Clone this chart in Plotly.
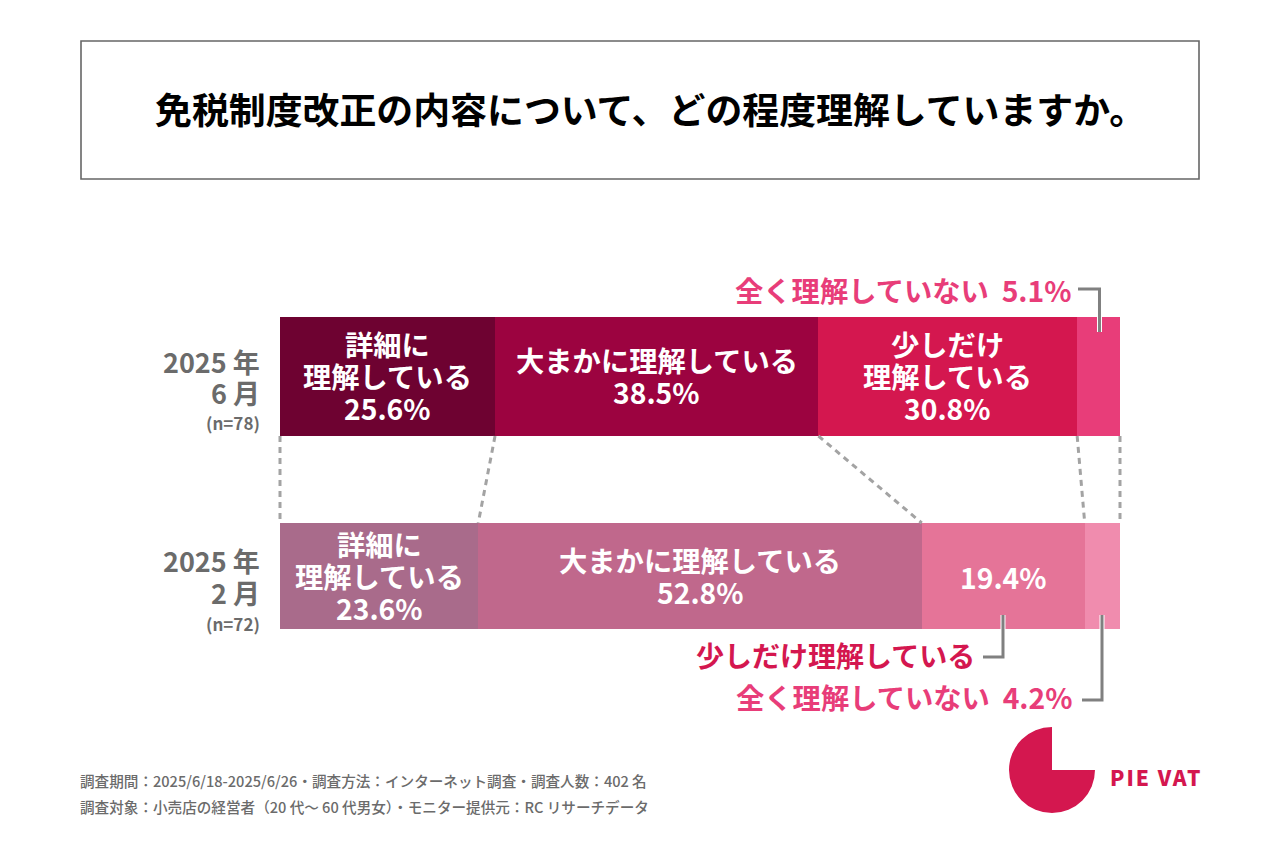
import numpy as np
import plotly.graph_objects as go

# ---- data ----
PERIODS = ["2025年6月", "2025年2月"]
SERIES = ["詳細に理解している", "大まかに理解している", "少しだけ理解している", "全く理解していない"]
JUNE = [25.6, 38.5, 30.8, 5.1]
FEBRUARY = [23.6, 52.8, 19.4, 4.2]
TITLE = "免税制度改正の内容について、どの程度理解していますか。"
FOOT_1 = "調査期間：2025/6/18-2025/6/26・調査方法：インターネット調査・調査人数：402 名"
FOOT_2 = "調査対象：小売店の経営者（20 代〜 60 代男女）・モニター提供元：RC リサーチデータ"

# ---- layout and style ----
W, H = 1280, 853
FONT = "Noto Sans CJK JP"
X0, X1 = 280, 1120
ROW_TOP = [317, 523]
ROW_BOT = [436, 629]
COLORS = [["#6E0231", "#A96B8B"], ["#9C0340", "#C0688C"], ["#D4174F", "#E57498"], ["#E83D79", "#F08CAE"]]
BIG = 28.3
centers = [(a + b) / 2 for a, b in zip(ROW_TOP, ROW_BOT)]
heights = [b - a for a, b in zip(ROW_TOP, ROW_BOT)]

fig = go.Figure()
for i, name in enumerate(SERIES):
    fig.add_trace(go.Bar(
        y=centers, x=[JUNE[i], FEBRUARY[i]], width=heights, name=name, orientation="h",
        marker=dict(color=COLORS[i], line=dict(width=0)), hoverinfo="skip", showlegend=False,
    ))

# dashed connectors between the bars, from the cumulative values
cum_j, cum_f = np.cumsum([0] + JUNE), np.cumsum([0] + FEBRUARY)
for a, b in zip(cum_j, cum_f):
    fig.add_trace(go.Scatter(
        x=[a, b], y=[ROW_BOT[0], ROW_TOP[1]], mode="lines", showlegend=False, hoverinfo="skip",
        line=dict(color="#A3A3A3", width=3, dash="6px,5px"), cliponaxis=False,
    ))

def px(v):
    return v / W

def py(v):
    return 1 - v / H

def txt(s, x, y, size, color, anchor="center", weight=700):
    fig.add_annotation(
        text=s, x=px(x), y=py(y - 1), xref="paper", yref="paper", showarrow=False,
        xanchor=anchor, yanchor="middle", align=anchor, borderpad=0, borderwidth=0,
        font=dict(family=FONT, size=size, color=color, weight=weight),
    )

def line(xs, ys, color, width):
    fig.add_shape(
        type="path", xref="paper", yref="paper",
        path="M " + " L ".join(f"{px(a):.5f},{py(b):.5f}" for a, b in zip(xs, ys)),
        line=dict(color=color, width=width),
    )

def xpos(v):
    return X0 + (X1 - X0) * v / 100

# title box
fig.add_shape(type="rect", xref="paper", yref="paper", x0=px(81), x1=px(1199), y0=py(179), y1=py(41),
              line=dict(color="#666666", width=1.6), fillcolor="white", layer="below")
txt(TITLE, 650, 109, 36.9, "#000000")

# row labels
for (y1, y2, y3, m, n) in [(362, 393, 424, "6", "(n=78)"), (561, 593, 624, "2", "(n=72)")]:
    txt("2025 年", 260, y1, 27, "#6B6B6B", "right")
    txt(f"{m} 月", 260, y2, 27, "#6B6B6B", "right")
    txt(n, 260, y3, 17, "#6B6B6B", "right")

# labels inside the bars
def mid(c, i):
    return xpos((c[i] + c[i + 1]) / 2)

for k, s in enumerate(["詳細に", "理解している", f"{JUNE[0]}%"]):
    txt(s, mid(cum_j, 0), 344 + 32 * k, BIG, "white")
for k, s in enumerate(["大まかに理解している", f"{JUNE[1]}%"]):
    txt(s, mid(cum_j, 1), 360 + 32 * k, BIG, "white")
for k, s in enumerate(["少しだけ", "理解している", f"{JUNE[2]}%"]):
    txt(s, mid(cum_j, 2), 344 + 32 * k, BIG, "white")
for k, s in enumerate(["詳細に", "理解している", f"{FEBRUARY[0]}%"]):
    txt(s, mid(cum_f, 0), 544 + 32 * k, BIG, "white")
for k, s in enumerate(["大まかに理解している", f"{FEBRUARY[1]}%"]):
    txt(s, mid(cum_f, 1), 560 + 32 * k, BIG, "white")
txt(f"{FEBRUARY[2]}%", mid(cum_f, 2), 577, BIG, "white")

# callouts
txt(f"全く理解していない  {JUNE[3]}%", 1072, 290, BIG, "#E83D79", "right")
txt("少しだけ理解している", 975, 656, 28, "#D4174F", "right")
txt(f"全く理解していない  {FEBRUARY[3]}%", 1073, 697, BIG, "#E83D79", "right")
for xs, ys in [([1078, 1099.5, 1099.5], [289, 289, 332]),
               ([983, 1003, 1003], [657, 657, 615]),
               ([1082, 1102, 1102], [700, 700, 615])]:
    line(xs, ys, "#FFFFFF", 5)
    line(xs, ys, "#808080", 3)

# footer
txt(FOOT_1, 80, 781, 14.6, "#6B6B6B", "left", 500)
txt(FOOT_2, 80, 807, 14.6, "#6B6B6B", "left", 500)

# logo
fig.add_trace(go.Pie(
    values=[25, 75], sort=False, direction="clockwise", rotation=0,
    marker=dict(colors=["rgba(0,0,0,0)", "#D4174F"], line=dict(width=0)),
    textinfo="none", hoverinfo="skip", showlegend=False,
    domain=dict(x=[px(1009), px(1095)], y=[py(813), py(727)]),
))
txt("PIE VAT", 1156, 778, 21, "#D4174F", "center", 800)

span = (X1 - X0) / 100
fig.update_layout(
    width=W, height=H, margin=dict(l=0, r=0, t=0, b=0),
    paper_bgcolor="white", plot_bgcolor="rgba(0,0,0,0)", barmode="stack", bargap=0,
    xaxis=dict(domain=[0, 1], range=[-X0 / span, (W - X0) / span], visible=False, fixedrange=True),
    yaxis=dict(domain=[0, 1], range=[H, 0], visible=False, fixedrange=True),
    font=dict(family=FONT),
)
POST = """
document.body.style.margin='0';
document.querySelectorAll('.annotation-text').forEach(function(t){
  if (t.textContent === 'PIE VAT') { t.style.letterSpacing = '2px'; }
});
"""
fig.write_html("out.html", config=dict(displayModeBar=False), post_script=POST)
